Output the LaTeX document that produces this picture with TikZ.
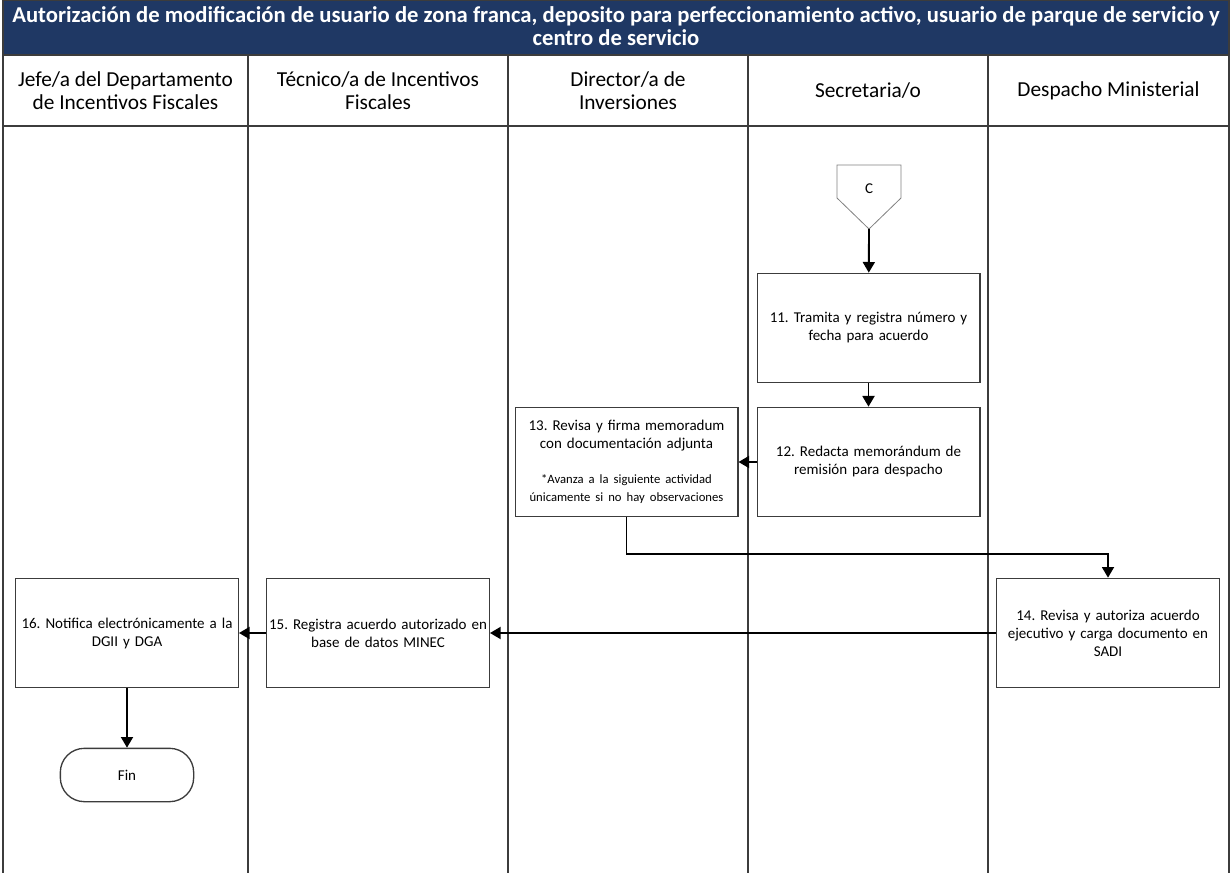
\documentclass[tikz,border=0pt]{standalone}
\usepackage{fontspec}
\setmainfont{Carlito}
\usetikzlibrary{arrows.meta}

\definecolor{titlenavy}{HTML}{1F3864}
\definecolor{lanegray}{HTML}{3C3C3C}

\tikzset{
  lane/.style={draw=lanegray, line width=1.3pt},
  lanehead/.style={font=\fontsize{16}{17.5}\selectfont, align=center},
  actbox/.style={draw=lanegray, line width=1pt, minimum width=167pt, minimum height=82pt,
    inner xsep=1pt, align=center, text width=164pt, font=\fontsize{11.25}{13.5}\selectfont},
  endbox/.style={draw=lanegray, line width=1pt, rounded corners=18pt, minimum width=100pt,
    minimum height=40pt, font=\fontsize{11.25}{13.5}\selectfont},
  arr/.style={draw=black, line width=1.4pt, -{Triangle[length=8pt,width=9pt]}}
}

\begin{document}
\frenchspacing
\begin{tikzpicture}[x={(0.75pt,0)}, y={(0,-0.75pt)}]
\useasboundingbox (0,0) rectangle (1232,873);
% title band
\fill[titlenavy] (3,0) rectangle (1229,55);
\node[text=white, font=\bfseries\fontsize{17}{17.5}\selectfont, align=center] (title) at (616,26)
  {Autorización de modificación de usuario de zona franca, deposito para perfeccionamiento activo, usuario de parque de servicio y\\centro de servicio};
% lanes
\draw[lane] (3,0) -- (1229,0);
\draw[lane] (3,0) -- (3,873);
\draw[lane] (1229,0) -- (1229,873);
\draw[lane] (3,55) -- (1229,55);
\draw[lane] (3,126) -- (1229,126);
\foreach \lx in {248,508,748,988}
  \draw[lane] (\lx,55) -- (\lx,873);
\node[lanehead] (h1) at (125.5,91) {Jefe/a del Departamento\\de Incentivos Fiscales};
\node[lanehead] (h2) at (378,91) {Técnico/a de Incentivos\\Fiscales};
\node[lanehead] (h3) at (628,91) {Director/a de\\Inversiones};
\node[lanehead] (h4) at (868,91) {Secretaria/o};
\node[lanehead] (h5) at (1108.5,91) {Despacho Ministerial};
% off page connector
\draw[draw=gray, line width=0.6pt] (837,165) -- (901,165) -- (901,198) -- (869,229) -- (837,198) -- cycle;
\coordinate (ctip) at (869,229);
\node[font=\fontsize{11.25}{13}\selectfont] (c) at (869,189) {C};
% activities
\node[actbox] (b11) at (868.5,328) {11. Tramita y registra número y\\fecha para acuerdo};
\node[actbox] (b12) at (868.5,462) {12. Redacta memorándum de\\remisión para despacho};
\node[actbox] (b13) at (626.5,462) {13. Revisa y firma memoradum\\con documentación adjunta\\[14pt]
  {\fontsize{9.5}{12}\selectfont *Avanza a la siguiente actividad\\únicamente si no hay observaciones}};
\node[actbox] (b14) at (1108,633) {14. Revisa y autoriza acuerdo\\ejecutivo y carga documento en\\SADI};
\node[actbox] (b15) at (378,633) {15. Registra acuerdo autorizado en\\base de datos MINEC};
\node[actbox] (b16) at (127,633) {16. Notifica electrónicamente a la\\DGII y DGA};
\node[endbox] (fin) at (127,775) {Fin};
% flow
\draw[arr] (ctip) -- (b11);
\draw[arr] (b11) -- (b12);
\draw[arr] (b12) -- (b13);
\draw[arr] (b13.south) -- ++(0,37) -| (b14.north);
\draw[arr] (b14) -- (b15);
\draw[arr] (b15) -- (b16);
\draw[arr] (b16) -- (fin);
\end{tikzpicture}
\end{document}
